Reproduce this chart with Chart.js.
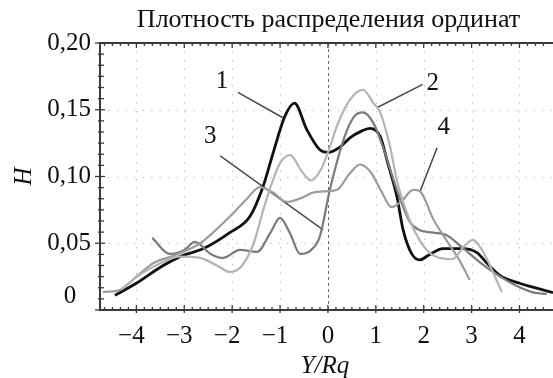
<!DOCTYPE html>
<html>
<head>
<meta charset="utf-8">
<script src="https://cdn.jsdelivr.net/npm/chart.js@4.4.1/dist/chart.umd.min.js"></script>
<style>
html, body { margin: 0; padding: 0; background: #fff; }
#wrap { width: 553px; height: 378px; }
</style>
</head>
<body>
<div id="wrap"><canvas id="chart" width="553" height="378"></canvas></div>
<script>
// courbes (Y/Rq, H)
const x1 = [-4.45, -4.0, -3.5, -3.09, -2.6, -2.05, -1.63, -1.36, -1.15, -0.9, -0.7, -0.44, -0.17, 0.0, 0.25, 0.46, 0.7, 0.88, 1.09, 1.25, 1.44, 1.57, 1.75, 1.92, 2.1, 2.4, 2.82, 3.11, 3.35, 3.59, 4.0, 4.3, 4.7];
const y1 = [0.011, 0.02, 0.032, 0.040, 0.046, 0.058, 0.070, 0.092, 0.117, 0.145, 0.155, 0.135, 0.12, 0.118, 0.122, 0.129, 0.134, 0.136, 0.13, 0.11, 0.085, 0.060, 0.042, 0.0375, 0.041, 0.046, 0.046, 0.043, 0.034, 0.026, 0.02, 0.017, 0.013];

const x2 = [-4.3, -3.9, -3.5, -3.1, -2.67, -2.3, -2.05, -1.8, -1.55, -1.35, -1.2, -1.0, -0.79, -0.55, -0.35, -0.15, 0.04, 0.19, 0.45, 0.73, 0.95, 1.09, 1.3, 1.44, 1.71, 1.92, 2.15, 2.34, 2.6, 2.85, 3.03, 3.2, 3.35, 3.5, 3.63];
const y2 = [0.016, 0.027, 0.035, 0.040, 0.039, 0.033, 0.0285, 0.033, 0.05, 0.075, 0.092, 0.11, 0.116, 0.104, 0.097, 0.105, 0.122, 0.138, 0.157, 0.165, 0.155, 0.148, 0.122, 0.097, 0.067, 0.052, 0.042, 0.039, 0.038, 0.048, 0.0525, 0.046, 0.036, 0.024, 0.0135];

const x3 = [-3.67, -3.3, -3.0, -2.78, -2.45, -2.19, -1.84, -1.48, -1.2, -1.0, -0.8, -0.58, -0.35, -0.17, 0.04, 0.35, 0.55, 0.73, 0.95, 1.15, 1.44, 1.71, 1.9, 2.2, 2.48, 2.8, 3.2, 3.6, 4.0, 4.3, 4.57];
const y3 = [0.054, 0.042, 0.045, 0.051, 0.042, 0.039, 0.045, 0.0435, 0.058, 0.069, 0.058, 0.042, 0.045, 0.055, 0.09, 0.13, 0.145, 0.148, 0.14, 0.122, 0.09, 0.066, 0.06, 0.058, 0.056, 0.047, 0.035, 0.025, 0.017, 0.013, 0.012];

const x4 = [-4.7, -4.34, -4.0, -3.65, -3.2, -2.67, -2.05, -1.7, -1.42, -1.15, -0.86, -0.55, -0.31, 0.0, 0.19, 0.45, 0.67, 0.9, 1.1, 1.33, 1.55, 1.78, 1.92, 2.2, 2.48, 2.75, 2.96];
const y4 = [0.0135, 0.015, 0.025, 0.035, 0.041, 0.05, 0.07, 0.083, 0.092, 0.088, 0.081, 0.084, 0.088, 0.089, 0.09, 0.102, 0.109, 0.103, 0.09, 0.077, 0.082, 0.09, 0.089, 0.068, 0.052, 0.037, 0.0225];

// lignes de renvoi vers les numéros des courbes
const leader1 = [[-1.88, 0.163], [-0.94, 0.144]];
const leader2 = [[1.98, 0.169], [1.02, 0.1515]];
const leader3 = [[-2.25, 0.1155], [-0.1, 0.06]];
const leader4 = [[2.28, 0.1215], [1.92, 0.0885]];

const curveLabels = ['1', '2', '3', '4'];
const curveLabelX = [-2.21, 2.19, -2.46, 2.42];
const curveLabelY = [0.171, 0.170, 0.130, 0.1365];

// axes
const xTickValues = [-4, -3, -2, -1, 0, 1, 2, 3, 4];
const xTickLabels = ['−4', '−3', '−2', '−1', '0', '1', '2', '3', '4'];
const yTickValues = [0, 0.05, 0.10, 0.15, 0.20];
const yTickLabels = ['0', '0,05', '0,10', '0,15', '0,20'];

const titleText = 'Плотность распределения ординат';
const xTitle = 'Y/Rq';
const yTitle = 'H';

const serif = '"Liberation Serif", "DejaVu Serif", serif';

function toPoints(xs, ys) {
    let pts = [];
    for (let i = 0; i < xs.length; i++) {
        pts.push({x: xs[i], y: ys[i]});
    }
    return pts;
}

function curve(xs, ys, color, width) {
    return {
        data: toPoints(xs, ys),
        showLine: true,
        borderColor: color,
        borderWidth: width,
        pointRadius: 0,
        cubicInterpolationMode: 'monotone',
        fill: false
    };
}

function leader(seg) {
    return {
        data: seg.map(p => ({x: p[0], y: p[1]})),
        showLine: true,
        borderColor: '#4a4a4a',
        borderWidth: 1.5,
        pointRadius: 0,
        tension: 0
    };
}

// grille pointillée + axes dessinés à la main
const decorPlugin = {
    id: 'decor',
    beforeDatasetsDraw(chart) {
        const ctx = chart.ctx;
        const a = chart.chartArea;
        const sx = chart.scales.x;
        const sy = chart.scales.y;
        ctx.save();
        ctx.lineWidth = 1;
        ctx.strokeStyle = '#c2c2c2';
        ctx.setLineDash([1.5, 7]);
        xTickValues.forEach(v => {
            if (v === 0) return;
            let px = Math.round(sx.getPixelForValue(v)) + 0.5;
            ctx.beginPath(); ctx.moveTo(px, a.top); ctx.lineTo(px, a.bottom); ctx.stroke();
        });
        yTickValues.forEach(v => {
            if (v === 0 || v === 0.2) return;
            let py = Math.round(sy.getPixelForValue(v)) + 0.5;
            ctx.beginPath(); ctx.moveTo(a.left, py); ctx.lineTo(a.right, py); ctx.stroke();
        });
        // ligne x = 0
        ctx.strokeStyle = '#6a6a6a';
        ctx.setLineDash([3, 3]);
        let p0 = Math.round(sx.getPixelForValue(0)) + 0.5;
        ctx.beginPath(); ctx.moveTo(p0, a.top); ctx.lineTo(p0, a.bottom); ctx.stroke();
        ctx.restore();
    },
    afterDraw(chart) {
        const ctx = chart.ctx;
        const a = chart.chartArea;
        const sx = chart.scales.x;
        const sy = chart.scales.y;
        ctx.save();
        ctx.setLineDash([]);
        ctx.strokeStyle = '#3a3a3a';

        // cadre gauche, bas, haut
        ctx.lineWidth = 2;
        ctx.beginPath();
        ctx.moveTo(a.right, a.top); ctx.lineTo(a.left, a.top);
        ctx.lineTo(a.left, a.bottom); ctx.lineTo(a.right, a.bottom);
        ctx.stroke();

        // graduations
        ctx.lineWidth = 1.3;
        for (let v = sx.min; v <= sx.max; v += 1 / 6) {
            let k = Math.round(v * 6);
            let val = k / 6;
            if (val < sx.min || val > sx.max) continue;
            let px = sx.getPixelForValue(val);
            let major = k % 6 === 0;
            let len = major ? 5 : 3;
            ctx.beginPath(); ctx.moveTo(px, a.bottom - len); ctx.lineTo(px, a.bottom + (major ? 3 : 1)); ctx.stroke();
            ctx.beginPath(); ctx.moveTo(px, a.top + len); ctx.lineTo(px, a.top - 1); ctx.stroke();
        }
        for (let k = 0; k <= 24; k++) {
            let val = k * 0.05 / 6;
            let py = sy.getPixelForValue(val);
            let major = k % 6 === 0;
            ctx.beginPath(); ctx.moveTo(a.left - (major ? 5 : 2), py); ctx.lineTo(a.left + (major ? 5 : 4), py); ctx.stroke();
        }

        // libellés des graduations
        ctx.fillStyle = '#111';
        ctx.font = '25px ' + serif;
        ctx.textBaseline = 'middle';
        ctx.textAlign = 'center';
        xTickValues.forEach((v, i) => {
            ctx.fillText(xTickLabels[i], sx.getPixelForValue(v) - (v < 0 ? 5 : 0), a.bottom + 26);
        });
        yTickValues.forEach((v, i) => {
            if (v === 0) {
                ctx.textAlign = 'center';
                ctx.fillText(yTickLabels[i], 70, sy.getPixelForValue(v) - 14);
            } else {
                ctx.textAlign = 'right';
                ctx.fillText(yTickLabels[i], a.left - 9, sy.getPixelForValue(v));
            }
        });

        // titres
        ctx.textAlign = 'center';
        ctx.textBaseline = 'alphabetic';
        ctx.font = '26px ' + serif;
        ctx.fillText(titleText, (a.left + a.right) / 2 + 2, 27);
        ctx.font = 'italic 25px ' + serif;
        ctx.fillText(xTitle, sx.getPixelForValue(0) - 3, 373);
        ctx.save();
        ctx.translate(24, sy.getPixelForValue(0.1));
        ctx.rotate(-Math.PI / 2);
        ctx.textBaseline = 'middle';
        ctx.fillText(yTitle, 0, 0);
        ctx.restore();

        // numéros des courbes
        ctx.font = '25px ' + serif;
        ctx.textBaseline = 'middle';
        curveLabels.forEach((t, i) => {
            ctx.fillText(t, sx.getPixelForValue(curveLabelX[i]), sy.getPixelForValue(curveLabelY[i]));
        });
        ctx.restore();
    }
};

let config = {
    type: 'scatter',
    data: {
        datasets: [
            curve(x2, y2, '#b4b4b4', 2.2),
            curve(x4, y4, '#9c9c9c', 2.2),
            curve(x3, y3, '#7a7a7a', 2.2),
            curve(x1, y1, '#111111', 2.8),
            leader(leader1),
            leader(leader2),
            leader(leader3),
            leader(leader4)
        ]
    },
    options: {
        responsive: false,
        animation: false,
        devicePixelRatio: 1,
        layout: {padding: {top: 43, left: 0, right: 0, bottom: 0}},
        plugins: {
            legend: {display: false},
            tooltip: {enabled: false}
        },
        scales: {
            x: {
                type: 'linear',
                min: -4.76,
                max: 4.70,
                grid: {display: false},
                border: {display: false},
                ticks: {display: false},
                afterFit: (scale) => { scale.height = 68; }
            },
            y: {
                type: 'linear',
                min: 0,
                max: 0.20,
                grid: {display: false},
                border: {display: false},
                ticks: {display: false},
                afterFit: (scale) => { scale.width = 100; }
            }
        }
    },
    plugins: [decorPlugin]
};

new Chart(document.getElementById('chart'), config);
</script>
</body>
</html>
